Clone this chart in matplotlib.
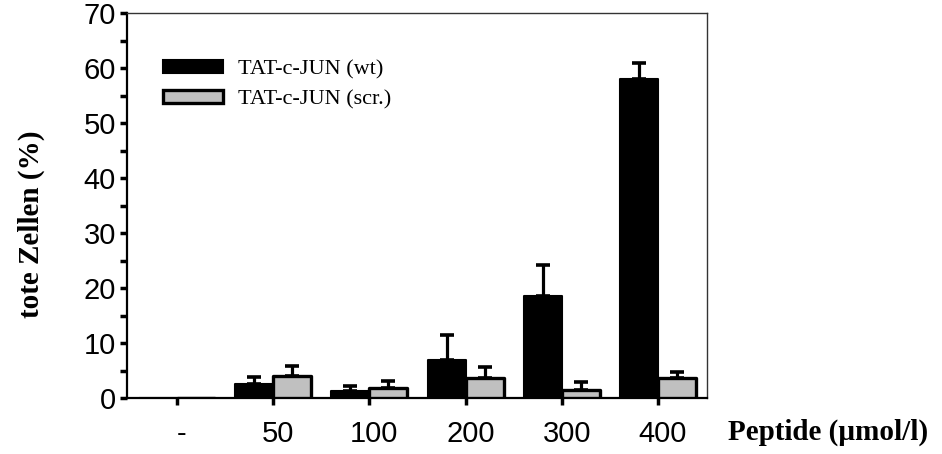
import numpy as np
import matplotlib
matplotlib.use("Agg")
import matplotlib.pyplot as plt
import matplotlib.transforms as mtransforms
from matplotlib.ticker import MultipleLocator

# --- data ---
doses = ["-", "50", "100", "200", "300", "400"]
wt_mean = [0.0, 2.5, 1.2, 7.0, 18.6, 58.0]
wt_err = [0.0, 1.3, 1.0, 4.5, 5.5, 3.0]
scr_mean = [0.0, 4.0, 1.8, 3.7, 1.4, 3.6]
scr_err = [0.0, 1.9, 1.3, 1.9, 1.6, 1.2]

W, H = 942, 454
fig = plt.figure(figsize=(W / 100, H / 100), dpi=100)
ax = fig.add_axes([127 / W, 1 - 398 / H, 580 / W, 385 / H])

x = np.arange(len(doses))
w = 0.395

b_wt = ax.bar(x - w / 2, wt_mean, w, color="black", edgecolor="black",
              linewidth=1.5, joinstyle="round", zorder=3,
              label="TAT-c-JUN (wt)")
b_scr = ax.bar(x + w / 2, scr_mean, w, color="#c0c0c0", edgecolor="black",
               linewidth=2.4, joinstyle="round", zorder=3,
               label="TAT-c-JUN (scr.)")

# nur obere Fehlerbalken
for off, m, e in [(-w / 2, wt_mean, wt_err), (w / 2, scr_mean, scr_err)]:
    m = np.array(m)
    e = np.array(e)
    ok = e > 0
    ax.errorbar(x[ok] + off, m[ok], yerr=[np.zeros(ok.sum()), e[ok]],
                fmt="none", ecolor="black", elinewidth=2.3, capsize=5,
                capthick=2.6, zorder=2)

ax.set_xlim(-0.52, 5.51)
ax.set_ylim(0, 70)
ax.yaxis.set_major_locator(MultipleLocator(10))
ax.yaxis.set_minor_locator(MultipleLocator(5))
ax.set_xticks(x)
ax.set_xticklabels(doses)

ax.tick_params(axis="y", which="both", direction="out", length=5, width=2.5,
               labelsize=21, pad=3)
ax.tick_params(axis="x", direction="out", length=5, width=2.5,
               labelsize=21, pad=11)
shift = mtransforms.ScaledTranslation(5 / 100, 0, fig.dpi_scale_trans)
for lab in ax.get_xticklabels():
    lab.set_fontfamily("Liberation Sans")
    lab.set_transform(lab.get_transform() + shift)
for lab in ax.get_yticklabels():
    lab.set_fontfamily("Liberation Sans")

for s in ["left", "bottom"]:
    ax.spines[s].set_linewidth(1.6)
for s in ["top", "right"]:
    ax.spines[s].set_linewidth(1.0)
    ax.spines[s].set_color("#333333")

ax.legend(handles=[b_wt, b_scr], loc="upper left",
          bbox_to_anchor=(0.027, 0.93), frameon=False,
          prop={"family": "Liberation Serif", "size": 16},
          handlelength=2.7, handleheight=0.5, handletextpad=0.7,
          labelspacing=0.5)

fig.text(31 / W, 1 - 224 / H, "tote Zellen (%)", rotation=90,
         ha="center", va="center", fontsize=21, fontweight="bold",
         family="Liberation Serif")
fig.text(728 / W, 1 - 432 / H, "Peptide (µmol/l)", ha="left",
         va="center", fontsize=21, fontweight="bold",
         family="Liberation Serif")

fig.savefig("out.png", dpi=100)
